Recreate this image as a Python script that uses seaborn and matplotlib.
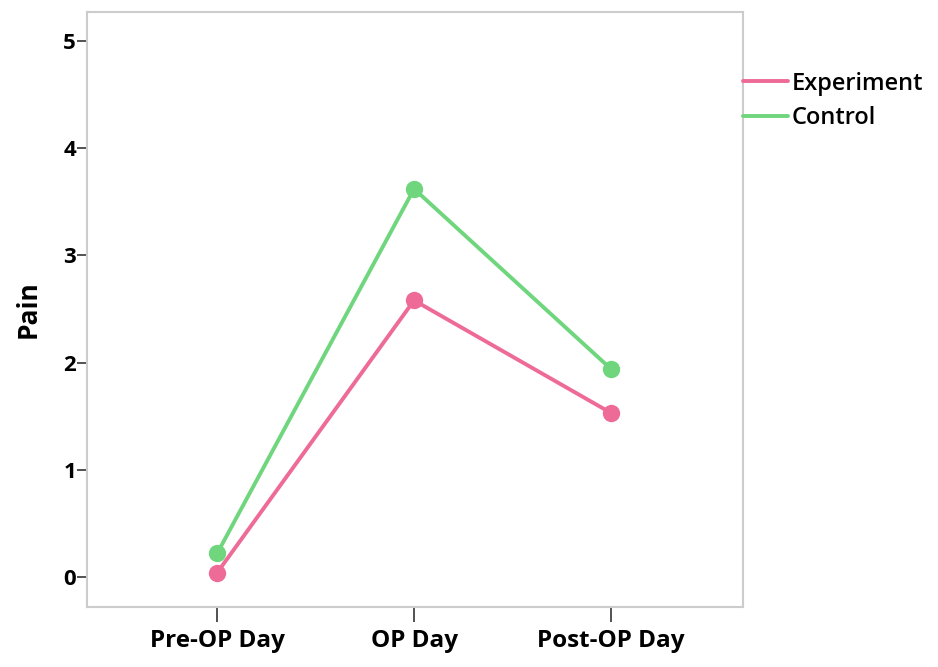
import numpy as np
import pandas as pd
import seaborn as sns
from matplotlib import pyplot as plt
from matplotlib.lines import Line2D

sns.set_style("white")
plt.rcParams['font.family'] = ['Open Sans', 'DejaVu Sans']
plt.rcParams['text.color'] = 'black'
plt.rcParams['xtick.color'] = '#333333'
plt.rcParams['ytick.color'] = '#333333'

days = ['Pre-OP Day', 'OP Day', 'Post-OP Day']
groups = ['Experiment', 'Control']
experiment = [0.04, 2.58, 1.53]
control = [0.22, 3.62, 1.94]
colors = {'Experiment': '#ee6b97', 'Control': '#6fd67e'}

df = pd.DataFrame({
    'Day': days * 2,
    'Pain': experiment + control,
    'Group': ['Experiment'] * 3 + ['Control'] * 3,
})

fig = plt.figure(figsize=(9.38, 6.67), dpi=100)
ax = fig.add_axes([0.093, 0.09, 0.699, 0.892])

sns.lineplot(data=df, x='Day', y='Pain', hue='Group', hue_order=groups,
             palette=colors, marker='o', markersize=12.5, markeredgewidth=0,
             linewidth=2.8, sort=False, legend=False, ax=ax)

ax.set_xlim(-0.66, 2.67)
ax.set_ylim(-0.28, 5.27)
ax.set_yticks(range(0, 6))
ax.set_xlabel('')
ax.set_ylabel('Pain', fontsize=19, fontweight='bold', labelpad=16, color='black')
ax.tick_params(axis='y', left=True, length=7, width=1.2,
               labelsize=16, pad=1, labelcolor='black')
ax.tick_params(axis='x', bottom=True, length=11, width=1.2,
               labelsize=17.5, pad=5, labelcolor='black')
for lab in ax.get_xticklabels() + ax.get_yticklabels():
    lab.set_fontweight('bold')
for sp in ax.spines.values():
    sp.set_color('#cccccc')
    sp.set_linewidth(1.5)

handles = [Line2D([], [], color=colors[g], linewidth=2.8) for g in groups]
leg = ax.legend(handles, groups, loc='upper left', bbox_to_anchor=(1.0, 0.9),
                frameon=False, fontsize=17, handlelength=1.9, handletextpad=0.15,
                labelspacing=0.45, borderaxespad=0, borderpad=0)
for t in leg.get_texts():
    t.set_fontweight('semibold')

fig.savefig('out.png', dpi=100)
